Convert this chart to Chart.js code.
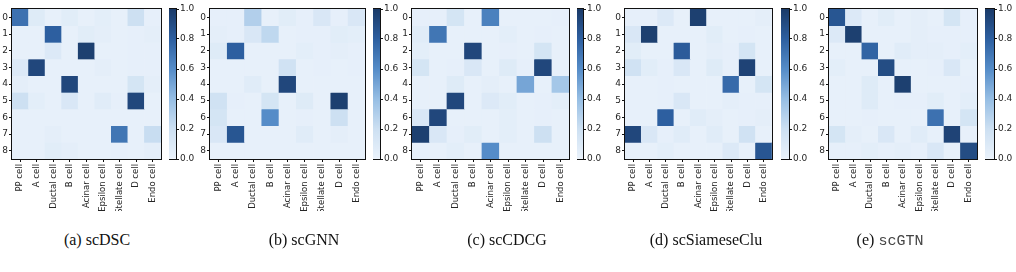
<!DOCTYPE html>
<html>
<head>
<meta charset="utf-8">
<script src="https://cdn.jsdelivr.net/npm/chart.js@4"></script>
<style>
  body { margin: 0; background: #fff; width: 1016px; height: 272px; position: relative; overflow: hidden; }
  canvas { position: absolute; }
  .cap { position: absolute; top: 231px; font-family: "Liberation Serif", serif; font-size: 16px; color: #111; transform: translateX(-50%); white-space: nowrap; }
  .mono { font-family: "Liberation Mono", monospace; font-size: 15px; color: #444; }
</style>
</head>
<body>
<div id="wrap"></div>
<script>
// Kategorier (kolonner) og radnavn
const cellTypes = ['PP cell', 'A cell', 'Ductal cell', 'B cell', 'Acinar cell', 'Epsilon cell', 'Stellate cell', 'D cell', 'Endo cell'];
const clusterLabels = ['0', '1', '2', '3', '4', '5', '6', '7', '8'];
const colorbarTicks = [0, 0.2, 0.4, 0.6, 0.8, 1.0];

// Matriser lest av bildet
const scDSC = [
  [0.72, 0.08, 0.02, 0.06, 0.02, 0.05, 0.02, 0.20, 0.03],
  [0.02, 0.02, 0.80, 0.02, 0.06, 0.04, 0.02, 0.03, 0.04],
  [0.02, 0.02, 0.10, 0.02, 0.97, 0.02, 0.02, 0.03, 0.03],
  [0.10, 0.93, 0.02, 0.02, 0.02, 0.04, 0.02, 0.03, 0.03],
  [0.04, 0.02, 0.02, 0.93, 0.02, 0.02, 0.02, 0.15, 0.04],
  [0.20, 0.05, 0.02, 0.12, 0.02, 0.07, 0.03, 0.93, 0.02],
  [0.02, 0.02, 0.02, 0.02, 0.02, 0.02, 0.02, 0.02, 0.02],
  [0.02, 0.02, 0.04, 0.02, 0.02, 0.02, 0.70, 0.02, 0.22],
  [0.02, 0.02, 0.06, 0.04, 0.02, 0.02, 0.03, 0.02, 0.04]
];
const scGNN = [
  [0.03, 0.03, 0.30, 0.02, 0.06, 0.03, 0.12, 0.03, 0.12],
  [0.04, 0.03, 0.12, 0.25, 0.02, 0.03, 0.03, 0.06, 0.05],
  [0.08, 0.80, 0.02, 0.02, 0.02, 0.05, 0.03, 0.04, 0.03],
  [0.02, 0.02, 0.02, 0.02, 0.18, 0.02, 0.03, 0.02, 0.03],
  [0.02, 0.02, 0.07, 0.02, 0.93, 0.02, 0.02, 0.02, 0.02],
  [0.18, 0.03, 0.02, 0.15, 0.02, 0.08, 0.02, 0.97, 0.02],
  [0.15, 0.02, 0.02, 0.60, 0.02, 0.03, 0.02, 0.20, 0.02],
  [0.12, 0.85, 0.02, 0.02, 0.02, 0.07, 0.02, 0.04, 0.02],
  [0.02, 0.02, 0.02, 0.02, 0.02, 0.02, 0.02, 0.02, 0.02]
];
const scCDCG = [
  [0.03, 0.03, 0.15, 0.02, 0.65, 0.02, 0.02, 0.02, 0.03],
  [0.07, 0.70, 0.02, 0.02, 0.02, 0.05, 0.02, 0.03, 0.02],
  [0.05, 0.02, 0.02, 0.93, 0.02, 0.03, 0.02, 0.15, 0.02],
  [0.15, 0.02, 0.03, 0.12, 0.02, 0.08, 0.03, 0.93, 0.02],
  [0.02, 0.02, 0.08, 0.02, 0.04, 0.02, 0.50, 0.02, 0.35],
  [0.02, 0.02, 0.93, 0.02, 0.10, 0.06, 0.02, 0.03, 0.05],
  [0.12, 0.93, 0.02, 0.02, 0.02, 0.05, 0.02, 0.03, 0.02],
  [0.97, 0.12, 0.03, 0.06, 0.02, 0.05, 0.02, 0.20, 0.02],
  [0.02, 0.02, 0.05, 0.02, 0.60, 0.02, 0.02, 0.02, 0.02]
];
const scSiameseClu = [
  [0.03, 0.03, 0.10, 0.02, 0.97, 0.02, 0.02, 0.02, 0.04],
  [0.12, 0.97, 0.02, 0.02, 0.02, 0.06, 0.02, 0.03, 0.02],
  [0.06, 0.02, 0.02, 0.82, 0.02, 0.04, 0.03, 0.15, 0.02],
  [0.18, 0.06, 0.03, 0.12, 0.02, 0.08, 0.03, 0.95, 0.02],
  [0.02, 0.02, 0.03, 0.02, 0.02, 0.02, 0.75, 0.02, 0.15],
  [0.02, 0.02, 0.03, 0.12, 0.02, 0.02, 0.04, 0.03, 0.03],
  [0.02, 0.02, 0.80, 0.02, 0.07, 0.04, 0.02, 0.03, 0.04],
  [0.93, 0.12, 0.03, 0.07, 0.02, 0.07, 0.02, 0.18, 0.02],
  [0.02, 0.02, 0.05, 0.02, 0.02, 0.02, 0.10, 0.02, 0.85]
];
const scGTN = [
  [0.85, 0.10, 0.02, 0.06, 0.02, 0.04, 0.02, 0.15, 0.03],
  [0.10, 0.97, 0.02, 0.02, 0.02, 0.04, 0.03, 0.03, 0.03],
  [0.02, 0.02, 0.78, 0.02, 0.07, 0.04, 0.04, 0.03, 0.05],
  [0.05, 0.02, 0.02, 0.90, 0.02, 0.02, 0.03, 0.12, 0.02],
  [0.02, 0.02, 0.08, 0.02, 0.97, 0.02, 0.02, 0.02, 0.03],
  [0.02, 0.02, 0.08, 0.02, 0.03, 0.03, 0.06, 0.02, 0.05],
  [0.02, 0.02, 0.03, 0.02, 0.02, 0.02, 0.72, 0.02, 0.15],
  [0.15, 0.04, 0.02, 0.12, 0.02, 0.07, 0.02, 0.95, 0.02],
  [0.03, 0.03, 0.05, 0.03, 0.04, 0.03, 0.12, 0.02, 0.90]
];

// Blues-fargeskala
const stops = [
  [0.0, [234, 242, 251]],
  [0.2, [205, 224, 242]],
  [0.4, [150, 190, 228]],
  [0.6, [85, 140, 200]],
  [0.8, [45, 95, 160]],
  [1.0, [26, 58, 104]]
];
function blues(v) {
  for (let i = 1; i < stops.length; i++) {
    if (v <= stops[i][0]) {
      const [a, ca] = stops[i - 1];
      const [b, cb] = stops[i];
      const t = (v - a) / (b - a);
      const c = ca.map((x, k) => Math.round(x + (cb[k] - x) * t));
      return `rgb(${c[0]},${c[1]},${c[2]})`;
    }
  }
  return 'rgb(26,58,104)';
}

const tickFont = { family: 'DejaVu Sans', size: 9 };
const xTickFont = { family: 'DejaVu Sans', size: 8.5 };
const tickColor = '#262626';

// Ramme rundt plottet
const framePlugin = {
  id: 'frame',
  afterDraw(chart) {
    const a = chart.chartArea;
    const ctx = chart.ctx;
    ctx.save();
    ctx.strokeStyle = '#111';
    ctx.lineWidth = 1;
    ctx.strokeRect(Math.round(a.left) - 0.5, Math.round(a.top) - 0.5, Math.round(a.right - a.left) + 1, Math.round(a.bottom - a.top) + 1);
    ctx.restore();
  }
};

function addCanvas(left, top, w, h) {
  const c = document.createElement('canvas');
  c.width = w; c.height = h;
  c.style.left = left + 'px'; c.style.top = top + 'px';
  c.style.width = w + 'px'; c.style.height = h + 'px';
  document.getElementById('wrap').appendChild(c);
  return c;
}

function lagHeatmap(matrix, left, right) {
  const canvasLeft = left - 12;
  const c = addCanvas(canvasLeft, 0, right - canvasLeft + 2, 211);
  new Chart(c.getContext('2d'), {
    type: 'bar',
    data: {
      labels: cellTypes,
      datasets: matrix.map((row, i) => ({
        label: clusterLabels[i],
        data: row.map(() => 1),
        backgroundColor: row.map(v => blues(v)),
        borderWidth: 0,
        barPercentage: 1,
        categoryPercentage: 1
      }))
    },
    options: {
      responsive: false,
      animation: false,
      layout: { padding: { top: 9, right: 2, left: 0, bottom: 0 } },
      plugins: { legend: { display: false }, tooltip: { enabled: false } },
      scales: {
        x: {
          stacked: true,
          grid: { offset: false, drawOnChartArea: false, tickLength: 3, color: '#111' },
          border: { display: false },
          ticks: { minRotation: 90, maxRotation: 90, autoSkip: false, font: xTickFont, color: tickColor, padding: 2 },
          afterFit: s => { s.height = 52; }
        },
        y: {
          stacked: true,
          min: 0,
          max: 9,
          reverse: true,
          afterBuildTicks: s => { s.ticks = clusterLabels.map((l, i) => ({ value: i + 0.5 })); },
          grid: { drawOnChartArea: false, tickLength: 3, color: '#111' },
          border: { display: false },
          ticks: { autoSkip: false, font: tickFont, color: tickColor, padding: 1, callback: v => clusterLabels[Math.floor(v)] },
          afterFit: s => { s.width = 12; }
        }
      }
    },
    plugins: [framePlugin]
  });
}

function lagColorbar(left, right) {
  const w = right - left;
  const c = addCanvas(left, 0, w + 24, 170);
  new Chart(c.getContext('2d'), {
    type: 'bar',
    data: {
      labels: [''],
      datasets: [{
        data: [[0, 1]],
        backgroundColor: ctx => {
          const a = ctx.chart.chartArea;
          if (!a) return blues(0.5);
          const g = ctx.chart.ctx.createLinearGradient(0, a.bottom, 0, a.top);
          stops.forEach(([v, col]) => g.addColorStop(v, `rgb(${col.join(',')})`));
          return g;
        },
        borderWidth: 0,
        barPercentage: 1,
        categoryPercentage: 1
      }]
    },
    options: {
      responsive: false,
      animation: false,
      layout: { padding: { top: 9, bottom: 11, left: 0, right: 0 } },
      plugins: { legend: { display: false }, tooltip: { enabled: false } },
      scales: {
        x: { display: false },
        y: {
          position: 'right',
          min: 0,
          max: 1,
          afterBuildTicks: s => { s.ticks = colorbarTicks.map(v => ({ value: v })); },
          grid: { drawOnChartArea: false, tickLength: 3, color: '#111' },
          border: { display: false },
          ticks: { font: tickFont, color: tickColor, padding: 1, callback: v => v.toFixed(1) },
          afterFit: s => { s.width = 24; }
        }
      }
    },
    plugins: [framePlugin]
  });
}

const panels = [
  { m: scDSC, left: 12, right: 163, cbL: 169, cbR: 176, cx: 97, cap: '(a) scDSC' },
  { m: scGNN, left: 210, right: 367, cbL: 373, cbR: 380, cx: 304, cap: '(b) scGNN' },
  { m: scCDCG, left: 412, right: 571, cbL: 577, cbR: 583, cx: 507, cap: '(c) scCDCG' },
  { m: scSiameseClu, left: 625, right: 774, cbL: 781, cbR: 789, cx: 706, cap: '(d) scSiameseClu' },
  { m: scGTN, left: 829, right: 979, cbL: 985, cbR: 994, cx: 890, cap: '(e) <span class="mono">scGTN</span>' }
];

window.onload = function () {
  panels.forEach(p => {
    lagHeatmap(p.m, p.left, p.right);
    lagColorbar(p.cbL, p.cbR);
    const d = document.createElement('div');
    d.className = 'cap';
    d.style.left = p.cx + 'px';
    d.innerHTML = p.cap;
    document.getElementById('wrap').appendChild(d);
  });
};
</script>
</body>
</html>
